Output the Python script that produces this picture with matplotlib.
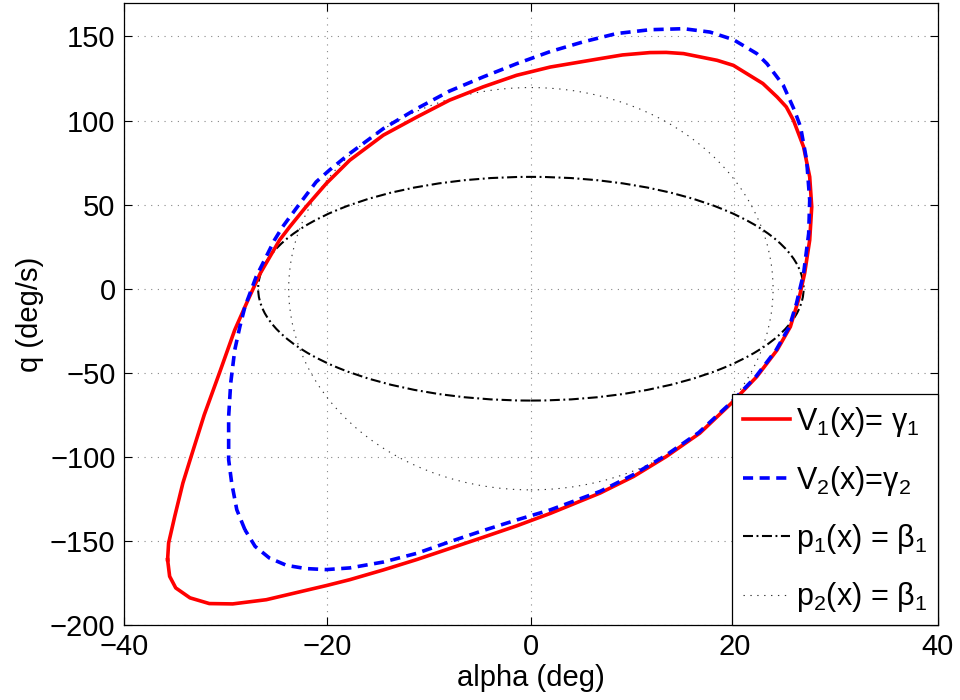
import matplotlib
matplotlib.use("Agg")
import matplotlib.pyplot as plt
from matplotlib.patches import Ellipse
from matplotlib.lines import Line2D

plt.rcParams['font.family'] = ['Liberation Sans', 'DejaVu Sans']
plt.rcParams['mathtext.fontset'] = 'custom'
plt.rcParams['mathtext.rm'] = 'Liberation Sans'
plt.rcParams['mathtext.it'] = 'Liberation Sans'

# V1(x) = gamma1 level set (alpha deg, q deg/s), closed loop
v1_alpha = [-35.7, -35.6, -35.0, -34.2, -33.4, -32.1, -30.6, -29.1, -27.8, -26.6,
            -24.7, -23.7, -22.1, -20.1, -17.8, -14.5, -11.2, -8.0, -4.7, -1.4,
            1.9, 6.8, 9.0, 11.7, 13.3, 15.0, 18.3, 19.9, 22.8, 24.2, 25.1, 25.8, 26.8, 27.4,
            27.6, 27.4, 26.9, 26.4, 25.5, 24.2, 22.2, 19.7, 16.6, 13.3,
            10.1, 6.8, 1.9, -1.4, -4.7, -8.0, -11.2, -14.5, -17.8, -20.1, -22.7,
            -26.0, -29.3, -31.6, -33.5, -34.9, -35.5, -35.7]
v1_q = [-161.1, -151.2, -135.4, -115.6, -100.0, -75.0, -50.0, -24.5, -6.7, 9.1,
        28.9, 36.8, 48.7, 62.6, 76.4, 91.3, 102.1, 112.1, 120.0, 126.9,
        131.8, 136.8, 139.0, 140.4, 140.5, 139.8, 135.8, 132.8, 122.0, 114.0, 108.1, 100.2, 84.3, 66.5,
        48.7, 28.9, 9.1, -4.5, -22.6, -36.4, -52.3, -68.1, -85.9, -99.8,
        -111.6, -121.5, -133.6, -141.0, -147.8, -154.5, -161.0, -167.2, -173.0, -176.5, -180.2,
        -184.9, -187.4, -187.2, -183.8, -177.9, -171.0, -161.1]

# V2(x) = gamma2 level set, closed loop
v2_alpha = [-28.1, -28.9, -29.4, -29.7, -29.7, -29.5, -29.1, -28.6, -28.1, -27.0,
            -25.2, -24.4, -22.7, -21.1, -19.8, -17.8, -14.5, -11.2, -8.0, -4.7,
            -1.4, 1.9, 5.1, 8.4, 11.7, 15.0, 17.6, 19.9, 22.2, 23.2, 24.8,
            25.9, 26.5, 27.1, 27.4, 27.3, 26.8, 26.1, 25.4, 24.1, 22.1,
            19.6, 16.5, 13.2, 10.0, 6.8, 1.9, -1.4, -4.7, -8.0, -11.2,
            -14.5, -17.8, -20.1, -22.1, -24.0, -25.7, -27.1, -28.1]
v2_q = [-143.3, -131.4, -115.6, -101.7, -76.0, -56.2, -36.4, -22.6, -10.7, 7.1,
        28.9, 36.8, 50.7, 63.5, 70.5, 80.4, 95.2, 107.1, 117.5, 125.9,
        133.8, 141.0, 146.7, 151.7, 154.0, 154.6, 152.6, 148.1, 139.8, 133.8, 121.0,
        106.1, 96.2, 76.4, 52.7, 32.9, 9.1, -8.7, -22.6, -36.4, -52.3,
        -68.1, -85.5, -99.3, -110.8, -120.5, -131.5, -137.5, -143.8, -150.5, -157.3,
        -162.5, -166.0, -167.0, -166.4, -164.5, -160.1, -153.2, -143.3]

# p1(x) = beta1 and p2(x) = beta1 ellipses: centre and semi-axes (alpha, q)
p1_center = (0.0, 0.0)
p1_semi = (26.8, 66.5)
p2_center = (0.0, 0.0)
p2_semi = (23.8, 119.6)

labels = ['V$_1$(x)= γ$_1$', 'V$_2$(x)=γ$_2$', 'p$_1$(x) = β$_1$', 'p$_2$(x) = β$_1$']

x_ticks = [-40, -20, 0, 20, 40]
y_ticks = [-200, -150, -100, -50, 0, 50, 100, 150]

fig = plt.figure(figsize=(9.6, 7.0), dpi=100)
ax = fig.add_axes([0.129, 0.107, 0.848, 0.889])

dashdot = (0, (4.8, 1.7, 0.9, 1.7))
dotted = (0, (1.2, 5.0))

ax.add_patch(Ellipse(p1_center, 2 * p1_semi[0], 2 * p1_semi[1], fill=False,
                     edgecolor='black', linewidth=1.5, linestyle=dashdot, zorder=2))
ax.add_patch(Ellipse(p2_center, 2 * p2_semi[0], 2 * p2_semi[1], fill=False,
                     edgecolor='#333333', linewidth=0.8, linestyle=dotted, zorder=2))

ax.plot(v1_alpha, v1_q, color='red', linewidth=2.6, zorder=3)
ax.plot(v2_alpha, v2_q, color='blue', linewidth=2.6, linestyle=(0, (2.8, 1.8)), zorder=4)

ax.set_xlim(-40, 40)
ax.set_ylim(-200, 170)
ax.set_xticks(x_ticks)
ax.set_yticks(y_ticks)
ax.grid(True, color='#888888', linestyle=(0, (1, 5)), linewidth=0.8)
ax.tick_params(direction='in', length=6, width=0.8, top=True, right=True,
               labelsize=21, pad=6)
for s in ax.spines.values():
    s.set_linewidth(0.9)

ax.set_xlabel('alpha (deg)', fontsize=21, labelpad=2)
ax.set_ylabel('q (deg/s)', fontsize=21, labelpad=4)

handles = [
    Line2D([], [], color='red', linewidth=2.6),
    Line2D([], [], color='blue', linewidth=2.6, linestyle=(0, (2.8, 1.8))),
    Line2D([], [], color='black', linewidth=1.5, linestyle=dashdot),
    Line2D([], [], color='#333333', linewidth=0.8, linestyle=dotted),
]
leg = ax.legend(handles, labels, loc='lower right', fontsize=22, fancybox=False,
                framealpha=1, edgecolor='black', borderaxespad=0,
                handlelength=1.55, handletextpad=0.2, labelspacing=0.8,
                borderpad=0.35)
leg.get_frame().set_linewidth(0.9)

fig.savefig('out.png', dpi=100)
